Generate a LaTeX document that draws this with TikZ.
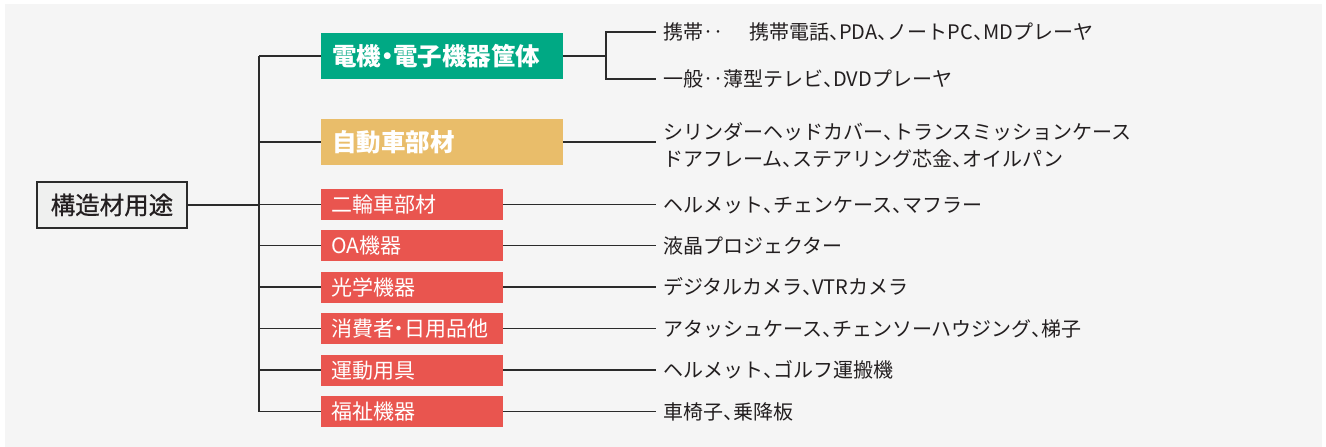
\documentclass[tikz,border=0pt]{standalone}
\usepackage{fontspec}
\setmainfont{Noto Sans CJK JP}
\definecolor{bg}{HTML}{F5F5F5}
\definecolor{gr}{HTML}{00A984}
\definecolor{ye}{HTML}{E9BD6A}
\definecolor{rd}{HTML}{E9554F}
\definecolor{tx}{HTML}{231F20}
\definecolor{ln}{HTML}{2B2B2B}
\definecolor{rootfill}{HTML}{EFF0EF}
\newcommand{\tten}{\makebox[0.5em][l]{、}}
\newcommand{\nakag}{\makebox[0.5em][c]{・}}
\tikzset{
  conn/.style={draw=ln, line width=1.8pt},
  bigbox/.style={fill=#1, text=white, minimum height=46pt, text width=220pt, align=left,
     inner xsep=11pt, inner ysep=0pt, font=\fontsize{24.5}{28}\selectfont\bfseries,
     text height=21.4pt, text depth=2.9pt, anchor=west},
  redbox/.style={fill=rd, text=white, minimum height=31pt, text width=162pt, align=left,
     inner xsep=10pt, inner ysep=0pt, font=\fontsize{21}{25}\selectfont,
     text height=18.5pt, text depth=2.5pt, anchor=west},
  item/.style={text=tx, anchor=west, inner xsep=7pt, inner ysep=0pt,
     font=\fontsize{20}{27}\selectfont, text height=17.6pt, text depth=2.4pt},
  rootbox/.style={draw=ln, line width=1.6pt, fill=rootfill, text=tx, minimum width=150pt,
     minimum height=46pt, inner sep=0pt, font=\fontsize{24.5}{28}\selectfont\addfontfeature{FakeBold=0.8},
     text height=21.4pt, text depth=2.9pt}
}
\begin{document}
\begin{tikzpicture}[x=1pt,y=-1pt]
\useasboundingbox (0,0) rectangle (1326,447);
\fill[bg] (5,4) rectangle (1322,447);
% root
\node[rootbox] (root) at (112,205) {構造材用途};
\coordinate (ttop) at (259,56);
\coordinate (tbot) at (259,411.5);
\coordinate (tmid) at (259,205);
\draw[conn] (ttop) -- (tbot);
\draw[conn] (root.east) -- (tmid);
% category boxes
\node[bigbox=gr] (c1) at (321,56) {電機\nakag 電子機器筐体};
\node[bigbox=ye] (c2) at (321,142) {自動車部材};
\node[redbox] (c3) at (321,204.5) {二輪車部材};
\node[redbox] (c4) at (321,245.5) {OA機器};
\node[redbox] (c5) at (321,287) {光学機器};
\node[redbox] (c6) at (321,328.5) {消費者\nakag 日用品他};
\node[redbox] (c7) at (321,370) {運動用具};
\node[redbox] (c8) at (321,411.5) {福祉機器};
\foreach \c in {c1,c2,c3,c4,c5,c6,c7,c8}{
  \draw[conn] (259,0 |- \c.west) -- (\c.west);
}
% items
\node[item] (i1a) at (656,32) {携帯‥\hspace{26pt}携帯電話\tten PDA\tten ノートPC\tten MDプレーヤ};
\node[item] (i1b) at (656,79) {一般‥薄型テレビ\tten DVDプレーヤ};
\node[item] (i2a) at (656,131.5) {シリンダーヘッドカバー\tten トランスミッションケース};
\node[item] (i2b) at (656,158.5) {ドアフレーム\tten ステアリング芯金\tten オイルパン};
\node[item] (i3) at (656,204.5) {ヘルメット\tten チェンケース\tten マフラー};
\node[item] (i4) at (656,245.5) {液晶プロジェクター};
\node[item] (i5) at (656,287) {デジタルカメラ\tten VTRカメラ};
\node[item] (i6) at (656,328.5) {アタッシュケース\tten チェンソーハウジング\tten 梯子};
\node[item] (i7) at (656,370) {ヘルメット\tten ゴルフ運搬機};
\node[item] (i8) at (656,411.5) {車椅子\tten 乗降板};
% bracket
\coordinate (bm) at (606,56);
\draw[conn] (c1.east) -- (bm);
\draw[conn] (i1a.west) -| (bm) |- (i1b.west);
\draw[conn] (c2.east) -- (c2.east -| i2a.west);
\foreach \a/\b in {c3/i3,c4/i4,c5/i5,c6/i6,c7/i7,c8/i8}{
  \draw[conn] (\a.east) -- (\b.west);
}
\end{tikzpicture}
\end{document}
